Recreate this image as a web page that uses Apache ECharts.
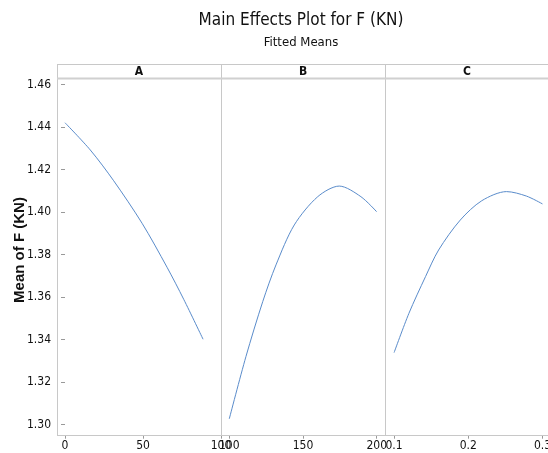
<!DOCTYPE html>
<html>
<head>
<meta charset="utf-8">
<script src="https://cdn.jsdelivr.net/npm/echarts@6/dist/echarts.min.js"></script>
<style>
html,body{margin:0;padding:0;background:#fff;}
#chart{width:548px;height:453px;}
</style>
</head>
<body>
<div id="chart"></div>
<script>
// Factor panels
const panelNames = ['A', 'B', 'C'];
// Fitted means
const aX = [0, 16.2, 31.2, 49.4, 65.4, 76.1, 88.5];
const aY = [1.4420, 1.4292, 1.4147, 1.3947, 1.3740, 1.3589, 1.3401];
const bX = [100, 111.3, 122.7, 131.7, 144.1, 160.0, 174.6, 189.3, 200];
const bY = [1.3026, 1.3319, 1.3578, 1.3751, 1.3939, 1.4072, 1.4122, 1.4072, 1.4001];
const cX = [0.1, 0.120, 0.1424, 0.160, 0.1892, 0.2182, 0.2516, 0.2783, 0.3];
const cY = [1.3338, 1.3523, 1.3696, 1.3821, 1.3962, 1.4053, 1.4096, 1.4075, 1.4038];
// Tick labels
const yTicks = [1.30, 1.32, 1.34, 1.36, 1.38, 1.40, 1.42, 1.44, 1.46];
const aTicks = [0, 50, 100];
const bTicks = [100, 150, 200];
const cTicks = [0.1, 0.2, 0.3];

const titleText = 'Main Effects Plot for F (KN)';
const subtitleText = 'Fitted Means';
const yName = 'Mean of F (KN)';

const chart = echarts.init(document.getElementById('chart'));
const FONT = 'Liberation Sans Narrow, DejaVu Sans Condensed, sans-serif';
const GRAY = '#c8c8c8';
const LINE = '#5a8ccb';

const grids = [
  {left: 57, top: 79, width: 164, height: 356.7},
  {left: 221, top: 79, width: 164.7, height: 356.7},
  {left: 385.7, top: 79, width: 164.7, height: 356.7}
].map(g => Object.assign(g, {show: false, containLabel: false, outerBoundsMode: 'none'}));

function xAxisFor(i, min, max, ticks, fmt) {
  return {
    type: 'value', gridIndex: i, min: min, max: max,
    axisLine: {show: false},
    splitLine: {show: false},
    axisTick: {show: true, length: 3, lineStyle: {color: '#999'}, customValues: ticks},
    axisLabel: {customValues: ticks, color: '#111', fontFamily: FONT, fontSize: 12, margin: 4,
      formatter: fmt, showMinLabel: true, showMaxLabel: true, hideOverlap: false}
  };
}

const yAxes = [0, 1, 2].map(i => ({
  type: 'value', gridIndex: i, min: 1.2947, max: 1.4626,
  axisLine: {show: false},
  splitLine: {show: false},
  axisTick: {show: i === 0, length: 4, lineStyle: {color: '#999'}, customValues: yTicks},
  axisLabel: {show: i === 0, customValues: yTicks, color: '#111', fontFamily: FONT, fontSize: 12, margin: 6,
    formatter: v => v.toFixed(2)}
}));

const ln = (x1, y1, x2, y2, c, w) => ({type: 'line', silent: true, z: 1,
  shape: {x1: x1, y1: y1, x2: x2, y2: y2}, style: {stroke: c || GRAY, lineWidth: w || 1}});
const txt = (x, y, t, font, rot) => ({type: 'text', x: x, y: y, rotation: rot || 0, silent: true,
  style: {text: t, font: font, fill: '#111', align: 'center', verticalAlign: 'middle'}});

const graphics = [
  ln(57, 64.5, 552, 64.5),
  ln(57.5, 64, 57.5, 436),
  ln(221.5, 64, 221.5, 436),
  ln(385.5, 64, 385.5, 436),
  ln(57, 78.5, 552, 78.5, '#d0d0d0', 2),
  ln(57, 435.5, 552, 435.5),
  txt(139, 71.5, panelNames[0], 'bold 12px ' + FONT),
  txt(303, 71.5, panelNames[1], 'bold 12px ' + FONT),
  txt(467, 71.5, panelNames[2], 'bold 12px ' + FONT),
  txt(301, 21, titleText, '17px ' + FONT),
  txt(301, 43, subtitleText, '13px ' + FONT),
  txt(20, 250, yName, 'bold 15px Liberation Sans, Arial, sans-serif', Math.PI / 2)
];

const pair = (xs, ys) => xs.map((x, k) => [x, ys[k]]);

chart.setOption({
  animation: false,
  backgroundColor: '#fff',
  grid: grids,
  xAxis: [
    xAxisFor(0, -5.13, 100, aTicks, v => String(v)),
    xAxisFor(1, 94.4, 206.1, bTicks, v => String(v)),
    xAxisFor(2, 0.0887, 0.3107, cTicks, v => v.toFixed(1))
  ],
  yAxis: yAxes,
  graphic: graphics,
  series: [
    {type: 'line', xAxisIndex: 0, yAxisIndex: 0, data: pair(aX, aY)},
    {type: 'line', xAxisIndex: 1, yAxisIndex: 1, data: pair(bX, bY)},
    {type: 'line', xAxisIndex: 2, yAxisIndex: 2, data: pair(cX, cY)}
  ].map(s => Object.assign(s, {smooth: 0.3, showSymbol: false, symbol: 'none',
    lineStyle: {color: LINE, width: 1}}))
});
</script>
</body>
</html>
